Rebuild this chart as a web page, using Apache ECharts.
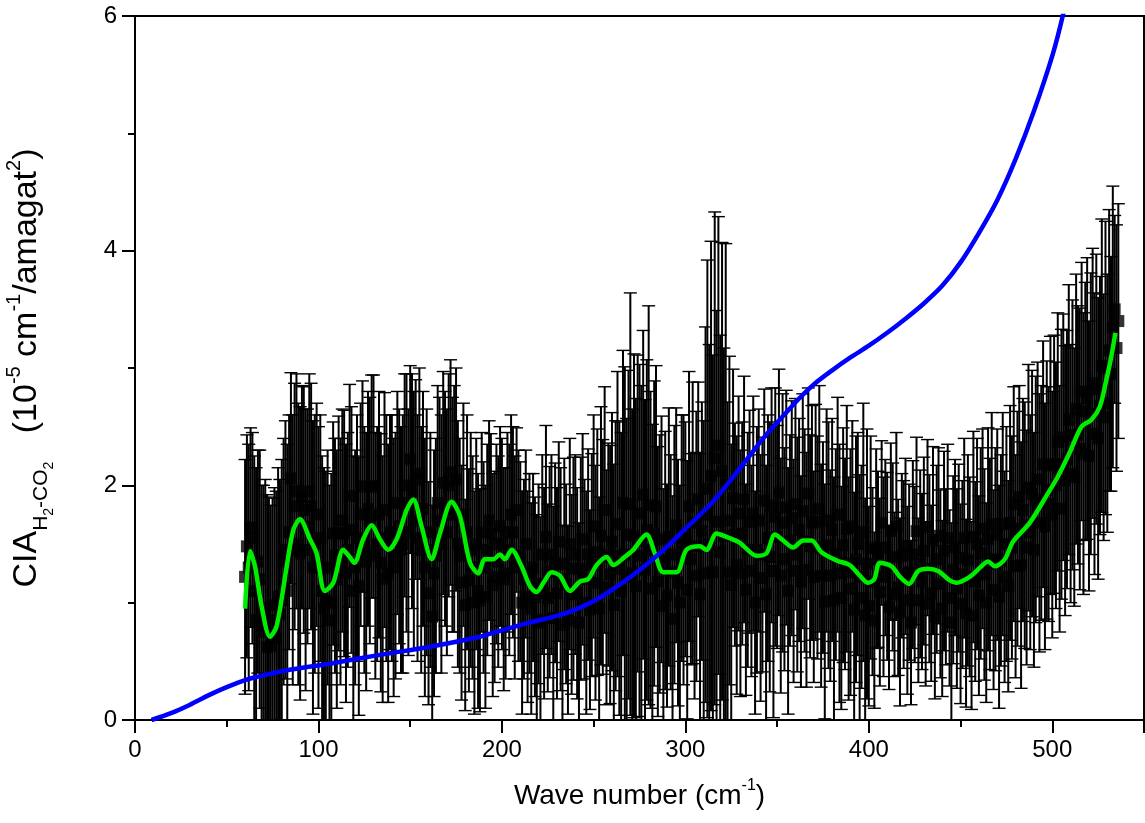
<!DOCTYPE html>
<html>
<head>
<meta charset="utf-8">
<script src="https://cdn.jsdelivr.net/npm/echarts@6/dist/echarts.min.js"></script>
<style>
html,body{margin:0;padding:0;background:#fff;}
#chart{width:1145px;height:823px;}
</style>
</head>
<body>
<div id="chart"></div>
<script>
// ---- measured points: wave number (cm-1), CIA value, error ----
const ptX = [
60,61,62,63,64,65,66,67,68,69,70,71,72,73,74,75,76,77,78,79,
80,81,82,83,84,85,86,87,88,89,90,91,92,93,94,95,96,97,98,99,
100,101,102,103,104,105,106,107,108,109,110,111,112,113,114,115,116,117,118,119,
120,121,122,123,124,125,126,127,128,129,130,131,132,133,134,135,136,137,138,139,
140,141,142,143,144,145,146,147,148,149,150,151,152,153,154,155,156,157,158,159,
160,161,162,163,164,165,166,167,168,169,170,171,172,173,174,175,176,177,178,179,
180,181,182,183,184,185,186,187,188,189,190,191,192,193,194,195,196,197,198,199,
200,201,202,203,204,205,206,207,208,209,210,211,212,213,214,215,216,217,218,219,
220,221,222,223,224,225,226,227,228,229,230,231,232,233,234,235,236,237,238,239,
240,241,242,243,244,245,246,247,248,249,250,251,252,253,254,255,256,257,258,259,
260,261,262,263,264,265,266,267,268,269,270,271,272,273,274,275,276,277,278,279,
280,281,282,283,284,285,286,287,288,289,290,291,292,293,294,295,296,297,298,299,
300,301,302,303,304,305,306,307,308,309,310,311,312,313,314,315,316,317,318,319,
320,321,322,323,324,325,326,327,328,329,330,331,332,333,334,335,336,337,338,339,
340,341,342,343,344,345,346,347,348,349,350,351,352,353,354,355,356,357,358,359,
360,361,362,363,364,365,366,367,368,369,370,371,372,373,374,375,376,377,378,379,
380,381,382,383,384,385,386,387,388,389,390,391,392,393,394,395,396,397,398,399,
400,401,402,403,404,405,406,407,408,409,410,411,412,413,414,415,416,417,418,419,
420,421,422,423,424,425,426,427,428,429,430,431,432,433,434,435,436,437,438,439,
440,441,442,443,444,445,446,447,448,449,450,451,452,453,454,455,456,457,458,459,
460,461,462,463,464,465,466,467,468,469,470,471,472,473,474,475,476,477,478,479,
480,481,482,483,484,485,486,487,488,489,490,491,492,493,494,495,496,497,498,499,
500,501,502,503,504,505,506,507,508,509,510,511,512,513,514,515,516,517,518,519,
520,521,522,523,524,525,526,527,528,529,530,531,532,533,534,535,536];
const ptY = [
1.22,1.48,1.30,1.64,1.55,1.10,0.85,1.35,1.20,0.80, 0.75,0.95,0.62,0.85,0.63,0.74,0.98,0.70,1.05,0.90,
1.02,1.35,1.45,1.10,1.60,2.06,1.45,1.82,1.95,1.50, 1.42,1.90,1.79,1.45,1.65,1.95,1.82,1.30,1.50,1.75,
1.30,1.55,1.10,0.95,1.02,1.30,0.85,1.00,1.59,1.40, 1.20,1.59,1.35,1.70,1.59,1.25,1.45,1.91,1.62,1.10,
1.30,1.55,1.14,1.75,1.99,1.45,1.35,1.80,1.70,1.99, 1.99,1.40,1.50,1.75,1.34,1.20,1.79,1.55,1.25,1.60,
1.55,1.30,1.40,1.85,1.65,1.45,1.50,2.00,1.85,1.60, 2.22,1.95,1.70,2.05,1.55,2.10,1.45,1.80,1.30,1.60,
1.08,1.45,0.88,1.25,1.40,1.85,1.70,1.50,2.02,1.80, 1.60,2.00,2.11,1.75,1.80,2.05,1.50,1.40,1.17,1.75,
0.98,1.60,1.19,1.45,1.30,1.00,1.50,1.10,1.02,1.60, 1.30,1.05,1.45,1.70,1.59,1.15,1.22,1.50,1.35,1.65,
1.50,1.20,1.25,1.60,1.45,1.75,1.60,1.30,1.79,1.40, 1.35,1.00,1.20,1.50,1.05,1.25,0.95,1.30,1.05,0.85,
1.16,0.83,1.41,1.08,1.56,1.04,1.26,1.41,0.87,1.34, 1.08,1.52,1.20,0.81,1.33,1.16,0.85,1.50,1.07,1.29,
1.41,1.08,0.83,1.29,1.54,1.20,1.00,1.41,0.94,1.32, 1.65,1.17,1.43,0.95,1.57,1.39,1.79,1.13,1.41,1.24,
1.52,0.98,1.40,1.67,1.29,1.10,1.85,1.41,1.22,1.58, 1.84,1.25,1.57,1.14,1.76,1.53,1.40,1.92,1.28,1.62,
1.83,1.45,1.12,1.59,1.82,1.18,1.33,1.54,0.97,1.36, 1.06,1.56,1.26,0.86,1.41,1.66,1.17,1.00,1.55,1.45,
1.54,1.11,1.82,1.37,1.68,1.23,1.48,1.88,1.07,1.61, 1.25,1.75,1.97,1.50,2.08,1.26,2.23,1.69,2.34,1.43,
2.12,1.57,2.01,1.26,1.70,1.15,1.89,1.58,1.32,1.76, 1.25,1.59,1.88,1.11,1.45,1.69,1.27,1.76,1.00,1.45,
1.70,1.21,1.41,1.87,1.07,1.55,1.39,1.83,1.27,1.73, 1.56,1.94,1.23,1.68,1.37,1.81,1.10,1.53,1.72,1.27,
1.84,1.41,1.62,1.18,1.78,1.53,1.28,1.93,1.48,1.68, 1.22,1.69,1.47,1.80,1.23,1.47,1.01,1.70,1.49,1.23,
1.62,1.02,1.41,1.75,1.25,1.04,1.49,1.33,1.63,1.12, 1.26,1.65,0.94,1.37,1.50,1.04,1.22,1.60,0.89,1.33,
0.97,1.47,1.18,0.85,1.46,1.37,1.09,1.68,1.22,1.47, 1.31,0.96,1.61,1.39,1.07,1.65,1.13,0.92,1.40,1.24,
1.48,1.02,1.26,0.83,1.41,1.24,1.61,1.02,1.33,1.18, 1.44,0.99,1.64,1.29,1.08,1.53,0.88,1.37,1.57,1.16,
0.95,1.44,1.22,1.55,1.04,0.83,1.28,1.47,1.12,1.38, 0.99,1.24,1.55,0.91,1.36,1.22,0.89,1.56,1.18,1.50,
1.06,1.42,1.63,1.24,1.00,1.54,1.33,1.67,1.11,1.37, 1.58,1.05,1.36,1.67,1.22,1.50,1.14,1.68,1.47,1.84,
1.31,1.63,1.90,1.32,1.79,1.66,1.47,1.98,1.60,1.93, 1.45,1.88,2.05,1.68,1.85,2.18,1.65,1.96,1.84,2.17,
1.75,2.18,2.00,2.37,1.80,2.18,2.41,2.04,2.22,2.56, 2.10,2.43,2.07,2.65,2.43,2.31,2.80,2.27,2.63,2.74,
2.25,2.61,2.87,2.44,2.82,2.40,2.68,3.02,2.58,3.00, 2.70,3.15,2.95,3.35,3.50,3.17,3.40];
const ptErr = [
1.00,0.95,1.05,0.85,0.90,1.15,1.30,0.95,1.10,1.20, 1.25,1.10,1.30,1.05,1.20,1.15,1.00,1.25,1.10,1.15,
1.20,1.05,1.10,1.25,1.00,0.90,1.15,1.05,1.00,1.20, 1.25,0.95,1.05,1.20,1.00,1.00,1.05,1.25,1.10,0.95,
1.20,1.05,1.15,1.20,1.10,1.00,1.15,1.10,0.95,1.00, 1.10,1.00,1.05,0.95,1.05,1.10,1.00,0.95,1.05,1.15,
1.00,1.05,1.10,0.95,0.90,1.05,1.10,1.00,1.05,0.95, 0.95,1.05,1.00,1.05,1.10,1.05,1.00,1.05,1.10,1.00,
1.05,1.10,1.05,0.95,1.00,1.05,1.10,0.95,1.10,1.05, 0.80,1.00,1.10,0.85,1.05,0.90,1.05,1.00,1.10,1.05,
0.95,1.00,0.95,1.05,1.00,1.00,1.05,1.10,0.95,1.00, 1.05,0.95,0.96,1.00,1.05,0.95,1.05,1.00,1.00,0.95,
0.90,1.00,0.95,1.00,0.95,0.95,0.90,1.00,0.95,0.85, 0.90,0.95,0.90,0.85,0.85,0.95,0.90,0.85,0.90,0.85,
0.90,0.95,0.90,0.85,0.90,0.85,0.90,0.95,0.70,0.90, 0.85,0.95,0.85,0.80,0.90,0.85,0.90,0.80,0.85,0.90,
0.85,0.90,0.85,0.90,0.95,0.80,0.90,0.85,0.95,0.85, 0.90,0.85,0.95,0.85,0.90,0.85,0.80,0.90,0.85,0.95,
0.85,0.90,0.85,0.95,0.90,0.85,0.95,0.90,0.85,0.95, 0.95,1.00,1.05,0.95,1.10,1.00,1.05,1.00,0.95,1.10,
1.10,1.20,1.15,1.30,1.25,1.35,1.30,1.60,1.35,1.40, 1.80,1.40,1.55,1.60,1.35,1.50,1.45,1.40,1.45,1.45,
1.70,1.35,1.40,1.30,1.20,1.15,1.10,1.05,1.00,1.10, 0.95,1.10,1.00,1.05,1.10,1.00,1.05,1.00,1.05,1.15,
1.00,1.10,1.15,0.90,1.20,1.05,1.15,1.00,1.20,1.10, 1.30,1.60,1.95,1.70,2.00,1.85,2.10,1.80,1.95,1.85,
1.95,1.60,2.05,1.45,1.40,1.20,1.10,0.95,1.10,1.00, 1.05,0.95,1.05,0.90,1.00,0.95,0.90,1.00,0.95,1.05,
0.95,1.05,1.00,0.95,1.10,1.05,1.15,1.00,1.25,1.10, 0.95,1.05,1.00,1.10,0.95,1.00,1.05,0.90,1.00,0.95,
0.90,1.00,0.95,0.90,1.00,0.95,1.00,0.90,0.95,1.00, 0.90,1.00,0.95,1.05,0.95,0.90,1.00,0.95,1.05,0.90,
0.95,1.05,0.90,1.00,1.10,0.95,1.00,0.90,1.05,0.95, 1.05,0.90,1.00,1.05,0.95,1.05,0.95,1.10,1.00,1.15,
0.85,0.95,0.80,0.75,0.85,0.75,0.80,0.70,0.85,0.75, 0.80,0.70,0.75,0.80,0.70,0.80,0.75,0.80,0.70,0.80,
0.75,0.80,0.75,0.70,0.80,0.75,0.80,0.70,0.80,0.75, 0.80,0.70,0.75,0.80,0.75,0.80,0.70,0.80,0.75,0.80,
0.75,0.85,0.75,0.80,0.75,0.85,0.80,0.75,0.85,0.80, 0.85,0.80,0.85,0.80,0.90,0.85,0.80,0.90,0.85,0.90,
0.85,0.90,0.85,0.90,0.85,0.95,0.90,0.95,0.85,0.95, 0.90,0.95,0.90,0.95,0.90,1.00,0.90,1.00,0.95,1.00,
0.95,1.00,0.95,1.05,0.95,1.05,1.00,1.05,1.00,1.05, 1.00,1.05,1.00,1.10,1.00,1.05,1.05,1.10,1.00,1.10,
1.05,1.10,1.05,1.10,1.05,1.15,1.05,1.15,1.10,1.15, 1.10,1.15,1.10,1.15,1.10,1.20,1.10,1.20,1.10,1.20,
1.15,1.20,1.15,1.20,1.15,1.20,1.10,1.25,1.05,1.25, 1.10,1.20,1.00,1.20,0.80,1.05,1.00];

// ---- smoothed fit (green) ----
const fitX = [60,62.7,65.4,69,73.6,77.2,82.7,86.3,89.9,95.4,99,103.5,108.1,113.5,116.5,119.5,124.4,129,133.5,138,142.6,148.1,151.7,156.2,161.7,166.2,172.6,177.1,182.6,187.1,190.7,195.3,198.9,201.6,205.3,210.7,215.3,218.9,223,227.1,231.6,237.1,242.5,247,251.6,257.1,260.7,267,271.6,278.8,283.4,287.9,295.2,300.6,307.9,311.5,317,322.5,329.7,338.8,344.2,348.8,353.3,358.7,364.2,368.8,374.2,382.4,389.6,395.1,399.6,403,406,412.4,417,422,426.9,432.3,437.8,444.1,447.8,455,461.4,465,468.7,474.1,478.6,487.7,496.8,503.2,509.5,515.9,521.4,525.9,529.5,532.2,534.4];
const fitY = [0.95,1.44,1.31,0.97,0.71,0.80,1.31,1.62,1.71,1.54,1.42,1.10,1.17,1.45,1.40,1.34,1.54,1.66,1.54,1.45,1.54,1.79,1.88,1.65,1.37,1.59,1.86,1.74,1.34,1.25,1.37,1.37,1.41,1.37,1.45,1.31,1.14,1.09,1.18,1.26,1.23,1.10,1.18,1.20,1.32,1.39,1.32,1.39,1.45,1.58,1.42,1.26,1.26,1.45,1.48,1.45,1.59,1.56,1.51,1.40,1.42,1.58,1.53,1.47,1.53,1.53,1.43,1.36,1.32,1.23,1.17,1.20,1.34,1.31,1.22,1.16,1.27,1.29,1.27,1.19,1.17,1.22,1.31,1.35,1.31,1.37,1.52,1.68,1.91,2.08,2.28,2.50,2.56,2.67,2.90,3.10,3.30];

// ---- theory (blue) ----
const theoX = [9,20,30,40,50,60,70,85,106,133.5,160.8,188,199,215,235,253,271,286,300,315,330,344,355,362,370,380,390,400,410,420,430,440,450,460,470,480,490,500,506,512];
const theoY = [0.0,0.06,0.13,0.21,0.28,0.34,0.38,0.43,0.48,0.555,0.625,0.71,0.76,0.83,0.91,1.04,1.23,1.42,1.63,1.86,2.15,2.43,2.62,2.74,2.86,2.98,3.09,3.19,3.30,3.42,3.55,3.70,3.90,4.15,4.43,4.78,5.19,5.66,6.02,6.45];

// ---- axes ----
const xMin = 0, xMax = 550, xStep = 100;
const yMin = 0, yMax = 6, yStep = 2;

const FONT = 'Arial, "Liberation Sans", sans-serif';

const errData = ptX.map((x, i) => [x, ptY[i] - ptErr[i], ptY[i] + ptErr[i]]);
const ptData = ptX.map((x, i) => [x, ptY[i]]);
const fitData = fitX.map((x, i) => [x, fitY[i]]);
const theoData = theoX.map((x, i) => [x, theoY[i]]);

const chart = echarts.init(document.getElementById('chart'), null, {renderer: 'canvas'});

function renderErr(params, api) {
  const x = api.value(0);
  const lo = api.value(1), hi = api.value(2);
  const cs = params.coordSys;
  const pTop = api.coord([x, hi]);
  const pBot = api.coord([x, lo]);
  const yTopLim = cs.y, yBotLim = cs.y + cs.height;
  const half = 6.5;
  const barStyle = {stroke: '#000', lineWidth: 2.0};
  const capStyle = {stroke: '#000', lineWidth: 1.4};
  const children = [];
  const y1 = Math.max(pTop[1], yTopLim);
  const y2 = Math.min(pBot[1], yBotLim);
  children.push({type: 'line', shape: {x1: pTop[0], y1: y1, x2: pTop[0], y2: y2}, style: barStyle});
  if (pTop[1] >= yTopLim) children.push({type: 'line', shape: {x1: pTop[0] - half, y1: pTop[1], x2: pTop[0] + half, y2: pTop[1]}, style: capStyle});
  if (pBot[1] <= yBotLim) children.push({type: 'line', shape: {x1: pBot[0] - half, y1: pBot[1], x2: pBot[0] + half, y2: pBot[1]}, style: capStyle});
  return {type: 'group', children: children};
}

const option = {
  backgroundColor: '#fff',
  animation: false,
  grid: {left: 135, right: 1, top: 16, bottom: 103, outerBoundsMode: 'none', containLabel: false,
         show: true, borderColor: '#000', borderWidth: 2, backgroundColor: 'transparent'},
  xAxis: {
    type: 'value', min: xMin, max: xMax, interval: xStep,
    name: '{m|Wave number (cm}{p|-1}{m|)}',
    nameLocation: 'middle', nameGap: 58,
    nameTextStyle: {rich: {
      m: {fontSize: 28, fontFamily: FONT, color: '#000'},
      p: {fontSize: 16, fontFamily: FONT, color: '#000', padding: [0, 0, 20, 0]}
    }},
    axisLine: {show: true, onZero: false, lineStyle: {color: '#000', width: 2}},
    axisTick: {show: true, inside: false, length: 13, lineStyle: {color: '#000', width: 2}},
    minorTick: {show: true, splitNumber: 2, length: 7, lineStyle: {color: '#000', width: 2}},
    splitLine: {show: false},
    axisLabel: {fontSize: 24, fontFamily: FONT, color: '#000', margin: 18, showMaxLabel: false,
      formatter: v => (v % xStep === 0 ? String(v) : '')}
  },
  yAxis: {
    type: 'value', min: yMin, max: yMax, interval: yStep,
    name: '{m|CIA}{s|H}{ss|2}{s|-CO}{ss|2}{m|   (10}{p|-5}{m| cm}{p|-1}{m|/amagat}{p|2}{m|)}',
    nameLocation: 'middle', nameRotate: 90, nameGap: 79,
    nameTextStyle: {rich: {
      m: {fontSize: 34, fontFamily: FONT, color: '#000'},
      s: {fontSize: 21, fontFamily: FONT, color: '#000', padding: [28, 0, 0, 0]},
      ss: {fontSize: 14, fontFamily: FONT, color: '#000', padding: [44, 0, 0, 0]},
      p: {fontSize: 20, fontFamily: FONT, color: '#000', padding: [0, 0, 26, 0]}
    }},
    axisLine: {show: true, onZero: false, lineStyle: {color: '#000', width: 2}},
    axisTick: {show: true, inside: false, length: 13, lineStyle: {color: '#000', width: 2}},
    minorTick: {show: true, splitNumber: 2, length: 7, lineStyle: {color: '#000', width: 2}},
    splitLine: {show: false},
    axisLabel: {fontSize: 24, fontFamily: FONT, color: '#000', margin: 18}
  },
  series: [
    {type: 'custom', name: 'err', data: errData, renderItem: renderErr, z: 1, silent: true,
     encode: {x: 0, y: [1, 2]}},
    {type: 'scatter', name: 'points', data: ptData, symbol: 'rect', symbolSize: 12,
     itemStyle: {color: '#000'}, z: 2, silent: true},
    {type: 'line', name: 'fit', data: fitData, smooth: 0.3, showSymbol: false,
     lineStyle: {color: '#00ee00', width: 4.5}, z: 3, silent: true},
    {type: 'line', name: 'theory', data: theoData, smooth: 0.3, showSymbol: false,
     lineStyle: {color: '#0000ff', width: 4.5}, z: 4, silent: true, clip: true}
  ]
};
chart.setOption(option);
</script>
</body>
</html>
